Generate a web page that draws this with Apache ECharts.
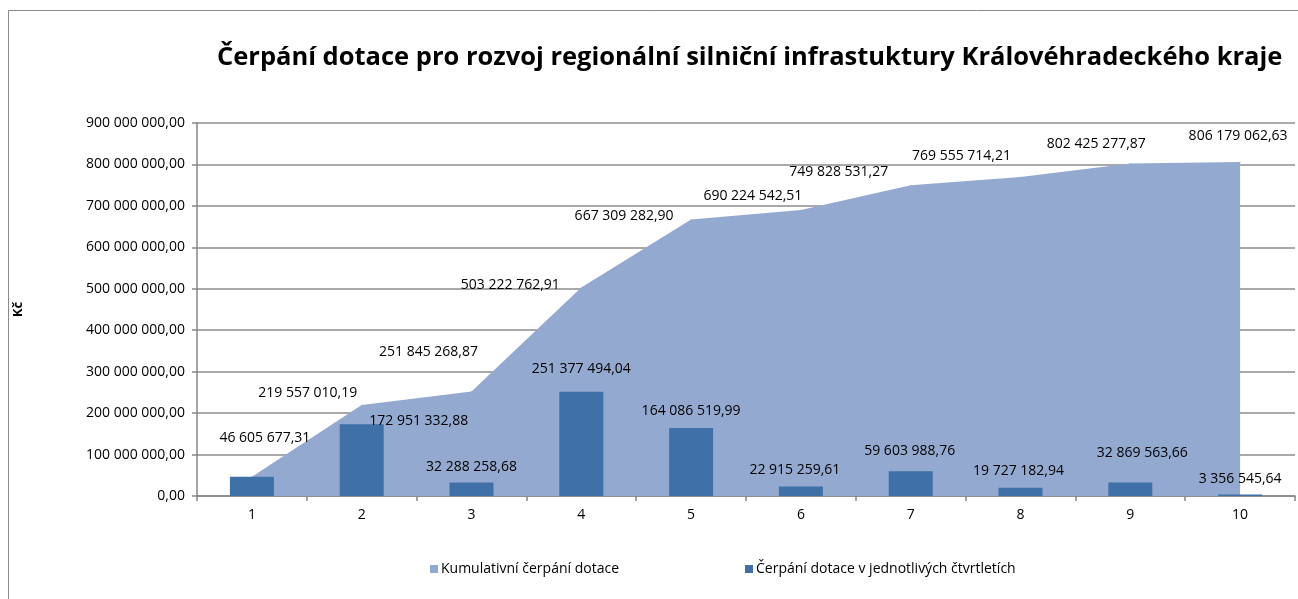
<!DOCTYPE html>
<html>
<head>
<meta charset="utf-8">
<script src="https://cdn.jsdelivr.net/npm/echarts@6/dist/echarts.min.js"></script>
<style>
html,body{margin:0;padding:0;background:#fff;}
#chart{width:1298px;height:599px;}
</style>
</head>
<body>
<div id="chart"></div>
<script>
var quarters = ['1','2','3','4','5','6','7','8','9','10'];
var cumulative = [46605677.31, 219557010.19, 251845268.87, 503222762.91, 667309282.90,
	690224542.51, 749828531.27, 769555714.21, 802425277.87, 806179062.63];
var perQuarter = [46605677.31, 172951332.88, 32288258.68, 251377494.04, 164086519.99,
	22915259.61, 59603988.76, 19727182.94, 32869563.66, 3356545.64];
var yTicks = [0, 100000000, 200000000, 300000000, 400000000, 500000000, 600000000, 700000000, 800000000, 900000000];

var nameCum = 'Kumulativní čerpání dotace';
var nameBar = 'Čerpání dotace v jednotlivých čtvrtletích';

// label nudges to mimic the hand-placed Excel labels
var cumShift = [[13,-39],[-54,-12],[-43,-40],[-71,-2],[-67,-3],[-48,-14],[-72,-13],[-59,-21],[-34,-19],[-2,-26]];
var barShift = [null,[57,13],[0,0],[0,-7],[0,-1],[-6,0],[-1,-4],[-2,-1],[12,-13],[0,0]];

function fmt(v){
	var s = Number(v).toFixed(2).split('.');
	var intPart = s[0].replace(/\B(?=(\d{3})+(?!\d))/g, ' ');
	return intPart + ',' + s[1];
}

var FONT = '"Open Sans", "DejaVu Sans", sans-serif';
var areaColor = '#94a9cf';
var barColor = '#3f71a8';

var cumData = [];
for(var i = 0 ; i < cumulative.length; i++){
	cumData.push({value:cumulative[i], label:{offset:cumShift[i]}});
}
var barData = [];
for(var i = 0 ; i < perQuarter.length; i++){
	if(barShift[i] == null){
		barData.push({value:perQuarter[i], label:{show:false}});
	}else{
		barData.push({value:perQuarter[i], label:{offset:barShift[i]}});
	}
}

var myChart = echarts.init(document.getElementById('chart'));
var option = {
	animation: false,
	textStyle: {fontFamily: FONT},
	graphic: [{
		type: 'rect',
		shape: {x: 8.5, y: 10.5, width: 1400, height: 700},
		style: {fill: 'none', stroke: '#8a8a8a', lineWidth: 1},
		silent: true
	}],
	title: {
		text: 'Čerpání dotace pro rozvoj regionální silniční infrastuktury Královéhradeckého kraje',
		left: 212,
		top: 40,
		textStyle: {fontFamily: FONT, fontWeight: 'bold', fontSize: 25.5, color: '#000'}
	},
	legend: {
		data: [nameCum, nameBar],
		left: 425,
		top: 557,
		icon: 'rect',
		itemWidth: 8,
		itemHeight: 8,
		itemGap: 126,
		textStyle: {fontFamily: FONT, fontSize: 14, color: '#000', padding: [0,0,0,-2]}
	},
	grid: {left: 197, right: 3, top: 123, bottom: 103, containLabel: false},
	xAxis: {
		type: 'category',
		data: quarters,
		boundaryGap: true,
		axisLine: {lineStyle: {color: '#868686', width: 1.5}},
		axisTick: {show: true, length: 5, inside: false, alignWithLabel: false, lineStyle: {color: '#868686', width: 1.5}},
		axisLabel: {color: '#000', fontSize: 14, margin: 12, fontFamily: FONT}
	},
	yAxis: {
		type: 'value',
		min: yTicks[0],
		max: yTicks[yTicks.length-1],
		interval: yTicks[1] - yTicks[0],
		name: 'Kč',
		nameLocation: 'middle',
		nameGap: 172,
		nameTextStyle: {fontFamily: FONT, fontWeight: 'bold', fontSize: 13, color: '#000'},
		axisLine: {show: true, lineStyle: {color: '#868686', width: 1.5}},
		axisTick: {show: true, length: 5, lineStyle: {color: '#868686', width: 1.5}},
		splitLine: {lineStyle: {color: '#8c8c8c', width: 1.5}},
		axisLabel: {color: '#000', fontSize: 14, margin: 12, fontFamily: FONT, formatter: function(v){return fmt(v);}}
	},
	series: [
		{
			name: nameCum,
			type: 'line',
			data: cumData,
			symbol: 'circle',
			symbolSize: 1,
			showSymbol: true,
			itemStyle: {color: areaColor},
			lineStyle: {width: 0, color: areaColor},
			areaStyle: {color: areaColor, opacity: 1},
			z: 1,
			label: {
				show: true,
				position: 'inside',
				color: '#000',
				fontSize: 14,
				fontFamily: FONT,
				formatter: function(p){return fmt(p.value);}
			}
		},
		{
			name: nameBar,
			type: 'bar',
			data: barData,
			barWidth: 44,
			itemStyle: {color: barColor},
			z: 2,
			label: {
				show: true,
				position: 'top',
				distance: 9,
				color: '#000',
				fontSize: 14,
				fontFamily: FONT,
				formatter: function(p){return fmt(p.value);}
			}
		}
	]
};
myChart.setOption(option);
</script>
</body>
</html>
